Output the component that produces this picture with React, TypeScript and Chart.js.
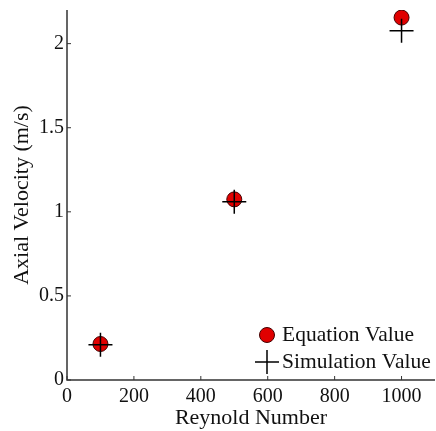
import React, { useEffect, useRef } from "react";
import { Chart, registerables } from "chart.js";

Chart.register(...registerables);

const reynolds: number[] = [100, 500, 1000];
const equationValues: number[] = [0.214, 1.074, 2.155];
const simulationValues: number[] = [0.21, 1.06, 2.077];
const xTicks: number[] = [0, 200, 400, 600, 800, 1000];
const yTicks: number[] = [0, 0.5, 1, 1.5, 2];
const legendLabels: string[] = ["Equation Value", "Simulation Value"];

const FONT = "'Liberation Serif', 'Times New Roman', serif";

const innerTicksAndLegend = {
  id: "innerTicksAndLegend",
  afterDraw(chart: any) {
    const ctx = chart.ctx;
    const area = chart.chartArea;
    const xs = chart.scales.x;
    const ys = chart.scales.y;
    ctx.save();
    ctx.strokeStyle = "#333";
    ctx.lineWidth = 1.5;
    ctx.beginPath();
    ctx.moveTo(area.left, area.top);
    ctx.lineTo(area.left, area.bottom);
    ctx.lineTo(area.right, area.bottom);
    ctx.stroke();
    ctx.lineWidth = 1;
    xTicks.forEach((v) => {
      const px = xs.getPixelForValue(v);
      ctx.beginPath();
      ctx.moveTo(px, area.bottom);
      ctx.lineTo(px, area.bottom - 4);
      ctx.stroke();
    });
    yTicks.forEach((v) => {
      const py = ys.getPixelForValue(v);
      ctx.beginPath();
      ctx.moveTo(area.left, py);
      ctx.lineTo(area.left + 4, py);
      ctx.stroke();
    });
    const lx = 267;
    const ly1 = 335;
    const ly2 = 362;
    ctx.fillStyle = "#e00000";
    ctx.strokeStyle = "#400";
    ctx.lineWidth = 1;
    ctx.beginPath();
    ctx.arc(lx, ly1, 7.5, 0, Math.PI * 2);
    ctx.fill();
    ctx.stroke();
    ctx.strokeStyle = "#000";
    ctx.lineWidth = 1.5;
    ctx.beginPath();
    ctx.moveTo(lx - 12, ly2);
    ctx.lineTo(lx + 12, ly2);
    ctx.moveTo(lx, ly2 - 12);
    ctx.lineTo(lx, ly2 + 12);
    ctx.stroke();
    ctx.fillStyle = "#111";
    ctx.font = `21.5px ${FONT}`;
    ctx.textBaseline = "middle";
    ctx.textAlign = "left";
    ctx.fillText(legendLabels[0], lx + 15, ly1);
    ctx.fillText(legendLabels[1], lx + 15, ly2);
    ctx.restore();
  },
};

export default function App() {
  const canvasRef = useRef<HTMLCanvasElement | null>(null);

  useEffect(() => {
    document.body.style.margin = "0";
    const canvas = canvasRef.current;
    if (!canvas) return;
    const chart = new Chart(canvas, {
      type: "scatter",
      data: {
        datasets: [
          {
            label: legendLabels[0],
            data: reynolds.map((x, i) => ({ x, y: equationValues[i] })),
            pointStyle: "circle",
            pointRadius: 7.5,
            backgroundColor: "#e00000",
            borderColor: "#400",
            borderWidth: 1,
            order: 1,
          },
          {
            label: legendLabels[1],
            data: reynolds.map((x, i) => ({ x, y: simulationValues[i] })),
            pointStyle: "cross",
            pointRadius: 12,
            borderColor: "#000",
            backgroundColor: "#000",
            borderWidth: 1.5,
            order: 0,
          },
        ],
      },
      options: {
        animation: false,
        responsive: false,
        layout: { autoPadding: false, padding: { top: 10, right: 1, left: 0, bottom: 0 } },
        plugins: {
          legend: { display: false },
          tooltip: { enabled: false },
        },
        scales: {
          x: {
            type: "linear",
            min: 0,
            max: 1100,
            afterBuildTicks: (scale: any) => {
              scale.ticks = xTicks.map((v) => ({ value: v }));
            },
            grid: { display: false, drawTicks: false },
            border: { display: false },
            ticks: {
              color: "#111",
              font: { family: FONT, size: 20 },
              padding: 5,
              maxRotation: 0,
              callback: (v: any) => String(v),
            },
            title: {
              display: true,
              text: "Reynold Number",
              color: "#111",
              font: { family: FONT, size: 22 },
              padding: { top: 1, bottom: 0 },
            },
            afterFit: (scale: any) => {
              scale.height = 51;
              scale.paddingLeft = 0;
              scale.paddingRight = 0;
            },
          },
          y: {
            type: "linear",
            min: 0,
            max: 2.2,
            afterBuildTicks: (scale: any) => {
              scale.ticks = yTicks.map((v) => ({ value: v }));
            },
            grid: { display: false, drawTicks: false },
            border: { display: false },
            ticks: {
              color: "#111",
              font: { family: FONT, size: 20 },
              padding: 3,
              callback: (v: any) => String(v),
            },
            title: {
              display: true,
              text: "Axial Velocity (m/s)",
              color: "#111",
              font: { family: FONT, size: 22 },
              padding: { top: 9, bottom: 0 },
            },
            afterFit: (scale: any) => {
              scale.width = 67;
              scale.paddingTop = 0;
              scale.paddingBottom = 0;
            },
          },
        },
      },
      plugins: [innerTicksAndLegend],
    });
    return () => chart.destroy();
  }, []);

  return (
    <div style={{ position: "absolute", left: 0, top: 0, width: 436, height: 431, background: "#fff" }}>
      <canvas ref={canvasRef} width={436} height={431} />
    </div>
  );
}
